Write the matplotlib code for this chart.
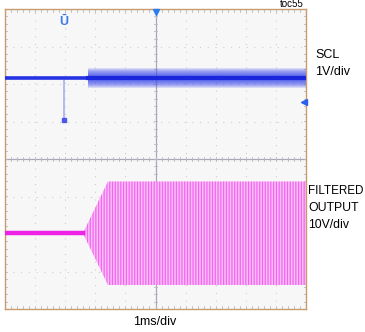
import numpy as np
import matplotlib
matplotlib.use("Agg")
import matplotlib.pyplot as plt

# scope screen: 10 x 8 divisions, time in ms (1ms/div), levels in divisions
plt.rcParams['font.family'] = ['Liberation Sans', 'DejaVu Sans']
plt.rcParams['hatch.linewidth'] = 0.9

# SCL trace (blue)
scl_level = 2.16
scl_idle_t = [-5.0, -2.24]
scl_clock_t = [-2.24, 5.0]
scl_band = 0.27          # half width of the clocking band
spike_t = -3.04
spike_low = 0.99

# filtered output trace (magenta)
out_idle_t = [-5.0, -2.41]
out_level = -1.98
env_t = [-2.41, -1.58, 5.0]
env_hi = [-1.98, -0.60, -0.60]
env_lo = [-1.98, -3.36, -3.36]

W, H = 365, 332
fig = plt.figure(figsize=(W / 100, H / 100), dpi=100)
ax = fig.add_axes([5 / W, 1 - 309 / H, 301 / W, 300 / H])
ax.set_xlim(-5, 5)
ax.set_ylim(-4, 4)
ax.set_facecolor('#f7f7f7')
for s in ax.spines.values():
    s.set_color('#c99a6e')
    s.set_linewidth(1.0)
ax.set_xticks([])
ax.set_yticks([])

# dotted graticule
grid_c = '#cfcfd4'
for gx in range(-4, 5):
    if gx != 0:
        ax.axvline(gx, color=grid_c, lw=0.8, ls=(0, (1, 6)), zorder=1)
for gy in range(-3, 4):
    if gy != 0:
        ax.axhline(gy, color=grid_c, lw=0.8, ls=(0, (1, 6)), zorder=1)
ax.axvline(0, color='#a8a8b8', lw=0.9, zorder=1)
ax.axhline(0, color='#a8a8b8', lw=0.9, zorder=1)

# minor ticks on border and center lines
mx = np.arange(-5, 5.01, 0.2)
my = np.arange(-4, 4.01, 0.2)
tk = '#b8b8c0'
for x in mx:
    ax.plot([x, x], [-4, -3.93], color=tk, lw=0.6, zorder=1)
    ax.plot([x, x], [3.93, 4], color=tk, lw=0.6, zorder=1)
    ax.plot([x, x], [-0.05, 0.05], color=tk, lw=0.6, zorder=1)
for y in my:
    ax.plot([-5, -4.94], [y, y], color=tk, lw=0.6, zorder=1)
    ax.plot([4.94, 5], [y, y], color=tk, lw=0.6, zorder=1)
    ax.plot([-0.05, 0.05], [y, y], color=tk, lw=0.6, zorder=1)

# SCL
ax.plot(scl_idle_t, [scl_level] * 2, color='#2434e2', lw=2.6, zorder=3)
for f in np.linspace(1.0, 0.2, 9):
    ax.fill_between(scl_clock_t, scl_level - scl_band * f, scl_level + scl_band * f,
                    color='#3a48ec', alpha=0.16, lw=0, zorder=2)
ax.plot(scl_clock_t, [scl_level] * 2, color='#1a26dc', lw=3.0, zorder=3)
ax.plot([spike_t, spike_t], [spike_low, scl_level], color='#a8aef4', lw=1.2, zorder=2)
ax.plot([spike_t], [spike_low + 0.05], marker='s', ms=2.5, color='#4a58ea', zorder=3)

# filtered output
ax.fill_between(env_t, env_lo, env_hi, facecolor='#fabff8', edgecolor='#f266f0',
                hatch='||||||', lw=0, zorder=2)
ax.plot(out_idle_t, [out_level] * 2, color='#ee22e6', lw=3.2, zorder=3)

# scope markers
ax.plot([0], [3.93], marker='v', ms=5, color='#2a7ef0', clip_on=False, zorder=5)
ax.plot([4.93], [1.52], marker='<', ms=4.5, color='#2a60f0', clip_on=False, zorder=5)
ax.text(spike_t, 3.65, '\u016a', color='#3a78ea', fontsize=9, fontweight='bold',
        ha='center', va='center', zorder=5)

# labels
fig.text(304 / W, 1 - 4 / H, 'toc55', fontsize=7, ha='right', va='center')
fig.text(315 / W, 1 - 55 / H, 'SCL', fontsize=9, ha='left', va='center')
fig.text(315 / W, 1 - 72 / H, '1V/div', fontsize=9, ha='left', va='center')
fig.text(308 / W, 1 - 191 / H, 'FILTERED', fontsize=8.4, ha='left', va='center')
fig.text(308 / W, 1 - 208 / H, 'OUTPUT', fontsize=8.8, ha='left', va='center')
fig.text(308 / W, 1 - 225 / H, '10V/div', fontsize=8.8, ha='left', va='center')
fig.text(155 / W, 1 - 322 / H, '1ms/div', fontsize=9, ha='center', va='center')

fig.savefig('out.png', dpi=100, facecolor='white')
